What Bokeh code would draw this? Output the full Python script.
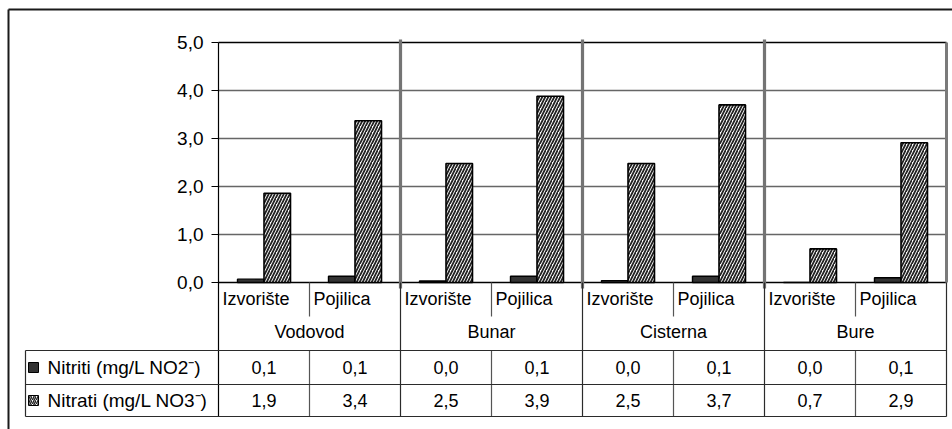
import numpy as np
from bokeh.plotting import figure
from bokeh.models import Range1d, ColumnDataSource
from bokeh.core.properties import value
from bokeh.embed import file_html
from bokeh.resources import INLINE

# ---- data -------------------------------------------------------------
groups = ["Vodovod", "Bunar", "Cisterna", "Bure"]
subgroups = ["Izvorište", "Pojilica"]
nitriti = [0.07, 0.13, 0.03, 0.13, 0.04, 0.13, 0.0, 0.10]
nitrati = [1.86, 3.37, 2.48, 3.88, 2.48, 3.70, 0.70, 2.91]
series_names = ["Nitriti (mg/L NO2\u207b)", "Nitrati (mg/L NO3\u207b)"]
y_ticks = [0, 1, 2, 3, 4, 5]

FONT = value("Liberation Sans")
W, H = 952, 429
# pixel layout of the plotting area: 8 category slots, 48 px per unit
X0_PX, SLOT_PX = 218, 91
Y0_PX, UNIT_PX = 282, 48


def px_x(px):
    return (px - X0_PX) / SLOT_PX


def px_y(py):
    return (Y0_PX - py) / UNIT_PX


def fmt(v):
    return f"{v:.1f}".replace(".", ",")


n_cat = len(groups) * len(subgroups)
cat_labels = [s for g in groups for s in subgroups]

p = figure(width=W, height=H, output_backend="svg", toolbar_location=None,
           x_range=Range1d(px_x(0), px_x(W)), y_range=Range1d(px_y(H), px_y(0)),
           x_axis_type=None, y_axis_type=None, min_border=0,
           outline_line_color=None, background_fill_color="white",
           border_fill_color="white")

# outer chart border
p.segment(x0=[px_x(8), px_x(8)], y0=[px_y(9), px_y(9)],
          x1=[px_x(W), px_x(8)], y1=[px_y(9), px_y(H)],
          line_color="#1a1a1a", line_width=2)

# horizontal gridlines
grid_vals = [t for t in y_ticks if 0 < t < 5]
p.segment(x0=[0] * len(grid_vals), x1=[n_cat] * len(grid_vals),
          y0=grid_vals, y1=grid_vals, line_color="#666666", line_width=1.4)

# top frame line and baseline
p.segment(x0=[0, 0], x1=[n_cat, n_cat], y0=[5, 0], y1=[5, 0],
          line_color="black", line_width=1.4)

# right frame line (grey)
p.segment(x0=[n_cat], x1=[n_cat], y0=[0], y1=[5], line_color="#7a7a7a", line_width=3)

# y tick marks and labels
p.segment(x0=[px_x(211)] * len(y_ticks), x1=[0] * len(y_ticks),
          y0=y_ticks, y1=y_ticks, line_color="black", line_width=1.2)
p.text(x=[px_x(203)] * len(y_ticks), y=y_ticks, text=[fmt(t) for t in y_ticks],
       text_align="right", text_baseline="middle", text_font=FONT,
       text_font_size="19px", text_color="black")

# bars
idx = np.arange(n_cat)
bar_w = 26.5 / SLOT_PX
src = ColumnDataSource(dict(
    x_ni=idx + 0.5 - bar_w / 2, x_na=idx + 0.5 + bar_w / 2,
    nitriti=nitriti, nitrati=nitrati))
p.vbar(x="x_ni", top="nitriti", bottom=0, width=bar_w, source=src,
       fill_color="#333333", line_color="black", line_width=1.4)
p.vbar(x="x_na", top="nitrati", bottom=0, width=bar_w, source=src,
       fill_color="white", line_color="black", line_width=1.6,
       hatch_pattern="/", hatch_color="#222222", hatch_scale=6, hatch_weight=1.8)

# group separators in the plot area
sep_x = [2 * k for k in range(1, len(groups))]
p.segment(x0=sep_x, x1=sep_x, y0=[px_y(39)] * len(sep_x), y1=[px_y(288)] * len(sep_x),
          line_color="#747474", line_width=3.2)

# ---- category axis + data table ---------------------------------------
y_sub_bot = px_y(316)
y_row0 = px_y(350)
y_row1 = px_y(384)
y_row2 = px_y(416)
x_left = px_x(25)
line_col = "#2b2b2b"

# value axis line continues down as table border
p.segment(x0=[0], x1=[0], y0=[5], y1=[y_row2], line_color="black", line_width=1.2)

# group boundary lines through the table
gb = [2 * k for k in range(1, len(groups) + 1)]
p.segment(x0=gb, x1=gb, y0=[0] * len(gb), y1=[y_row2] * len(gb),
          line_color=line_col, line_width=1.2)
# subcategory dividers
sd = [2 * k + 1 for k in range(len(groups))]
p.segment(x0=sd, x1=sd, y0=[0] * len(sd), y1=[y_sub_bot] * len(sd),
          line_color="#555555", line_width=1.2)
p.segment(x0=sd, x1=sd, y0=[y_row0] * len(sd), y1=[y_row2] * len(sd),
          line_color="#555555", line_width=1.2)
# horizontal table lines
p.segment(x0=[x_left] * 3, x1=[n_cat] * 3, y0=[y_row0, y_row1, y_row2],
          y1=[y_row0, y_row1, y_row2], line_color=line_col, line_width=1.2)
p.segment(x0=[x_left], x1=[x_left], y0=[y_row0], y1=[y_row2],
          line_color=line_col, line_width=1.2)

# subcategory labels
p.text(x=idx + px_x(X0_PX + 4), y=[px_y(298)] * n_cat, text=cat_labels,
       text_align="left", text_baseline="middle", text_font=FONT,
       text_font_size="18px", text_color="black")
# group labels
p.text(x=[2 * k + 1 for k in range(len(groups))], y=[px_y(331)] * len(groups),
       text=groups, text_align="center", text_baseline="middle", text_font=FONT,
       text_font_size="18px", text_color="black")

# table values
ym1 = (y_row0 + y_row1) / 2
ym2 = (y_row1 + y_row2) / 2
p.text(x=idx + 0.5, y=[ym1] * n_cat, text=[fmt(v) for v in nitriti],
       text_align="center", text_baseline="middle", text_font=FONT,
       text_font_size="18px", text_color="black")
p.text(x=idx + 0.5, y=[ym2] * n_cat, text=[fmt(v) for v in nitrati],
       text_align="center", text_baseline="middle", text_font=FONT,
       text_font_size="18px", text_color="black")

# legend keys and series names
key_x = px_x(33)
p.rect(x=[key_x], y=[ym1], width=10, height=10, width_units="screen",
       height_units="screen", fill_color="#333333", line_color="black", line_width=1)
p.rect(x=[key_x], y=[ym2], width=10, height=10, width_units="screen",
       height_units="screen", fill_color="white", line_color="black", line_width=1,
       hatch_pattern="/", hatch_color="#222222", hatch_scale=4, hatch_weight=1.4)
p.text(x=[px_x(47)] * 2, y=[ym1, ym2], text=series_names,
       text_align="left", text_baseline="middle", text_font=FONT,
       text_font_size="19px", text_color="black")

open("out.html", "w").write(file_html(p, INLINE))
